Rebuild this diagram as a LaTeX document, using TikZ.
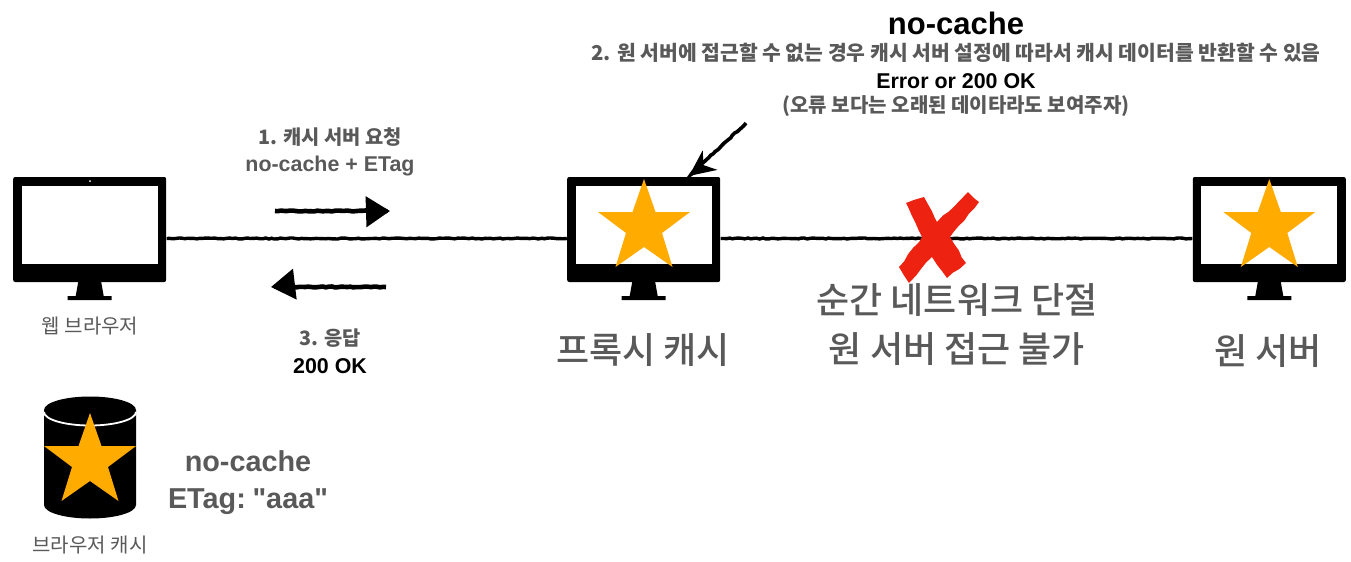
\documentclass[tikz,border=0pt]{standalone}
\usepackage{fontspec}
\setmainfont[Ligatures=TeXOff]{Liberation Sans}
\newfontfamily\krfont{Noto Sans CJK KR}
\newfontfamily\krmedium{Noto Sans CJK KR Medium}
\usetikzlibrary{arrows.meta,decorations.pathmorphing}
\definecolor{txtgray}{HTML}{595959}
\definecolor{staryellow}{HTML}{FFAB00}
\definecolor{crossred}{HTML}{EE2211}
\tikzset{
 monbody/.style={fill=black,rounded corners=1pt,inner sep=0pt,minimum width=76.5pt,minimum height=52.5pt},
 monscreen/.style={fill=white,inner sep=0pt,minimum width=68pt,minimum height=39pt},
 rough/.style={decorate,decoration={random steps,segment length=1.5pt,amplitude=.25pt}},
 link/.style={rough,line width=1.7pt,black},
 handarrow/.style={rough,line width=2.3pt,black,line join=round,-{Triangle[length=12pt,width=15pt]}},
 small/.style={font=\krfont\fontsize{10}{11}\selectfont,text=txtgray},
 label/.style={font=\krfont\bfseries\fontsize{9.9}{12}\selectfont,text=txtgray},
 latin/.style={font=\bfseries\fontsize{10.7}{12}\selectfont,text=txtgray},
 cacheinfo/.style={font=\bfseries\fontsize{14.4}{16}\selectfont,text=txtgray},
 big/.style={font=\krmedium\fontsize{18}{22}\selectfont,text=txtgray},
}
\newcommand{\monitor}[2]{
 \node[monbody] (#1) at (#2,229.5) {};
 \node[monscreen] (#1 screen) at (#2,225) {};
 \fill (#2-11.5,282)--(#2+11.5,282)--(#2+14,296)--(#2+22,296)--(#2+22,300)--(#2-22,300)--(#2-22,296)--(#2-14,296)--cycle;
}
\newcommand{\gstar}[2]{
 \fill[staryellow,shift={(#1,#2)}] (0,0)--(11.5,33)--(46,33)--(18,54)--(28.5,88)--(0,68)--(-28.5,88)--(-18,54)--(-46,33)--(-11.5,33)--cycle;
}
\begin{document}
\begin{tikzpicture}[x=0.5pt,y=-0.5pt]
 \useasboundingbox (0,0) rectangle (1351,562);
 \pgfmathsetseed{7}
 \monitor{browser}{89.7}
 \monitor{proxy}{643.7}
 \monitor{origin}{1269.3}
 \fill[white] (90,181) circle (1);
 \gstar{644}{179}
 \gstar{1269.3}{179}
 % connectors
 \draw[link] ([yshift=-4.5pt]browser.east) -- ([yshift=-4.5pt]proxy.west);
 \draw[link] ([yshift=-4.5pt]proxy.east) -- ([yshift=-4.5pt]origin.west);
 \coordinate (reqstart) at (275,211);
 \coordinate (reqend) at (390,211);
 \coordinate (respstart) at (386,287);
 \coordinate (respend) at (271,287);
 \coordinate (notestart) at (746,123);
 \coordinate (noteend) at (689,176);
 \draw[handarrow] (reqstart) -- (reqend);
 \draw[handarrow] (respstart) -- (respend);
 \draw[rough,line width=1.8pt,-{Stealth[length=13pt,width=12pt,inset=4pt]}] (notestart) -- (noteend);
 % red cross
 \fill[crossred,decorate,decoration={random steps,segment length=4pt,amplitude=.4pt}] (906,203)--(924,197)--(937,222)--(968,192)--(979,202)--(950,237)--(966,263)--(947,278)--(932,257)--(909,283)--(899,267)--(922,237)--cycle;
 % cache
 \fill (44,410) arc[start angle=180,end angle=360,x radius=46,y radius=13.5] -- (136,505) arc[start angle=0,end angle=180,x radius=46,y radius=13.5] -- cycle;
 \draw[white,line width=.9pt] (44,412) arc[start angle=180,end angle=0,x radius=46,y radius=13.5];
 \gstar{90}{413}
 % labels
 \node[label] (reqlabel) at (330,137) {1. 캐시 서버 요청};
 \node[latin] (reqtag) at (330,166) {no-cache + ETag};
 \node[label] (resplabel) at (330,338) {3. 응답};
 \node[latin,text=black] (respok) at (330,366) {200 OK};
 \node[small] (browserlabel) at (90,326) {웹 브라우저};
 \node[small] (cachelabel) at (90,545) {브라우저 캐시};
 \node[cacheinfo] (cachename) at (248,461) {no-cache};
 \node[cacheinfo] (cachetag) at (248,502) {\spaceskip=.14em ETag: "aaa"};
 \node[font=\bfseries\fontsize{15.5}{17}\selectfont] (title) at (956,23) {no-cache};
 \node[label,font=\krfont\bfseries\fontsize{10.2}{12}\selectfont] (notetwo) at (956,53) {2. 원 서버에 접근할 수 없는 경우 캐시 서버 설정에 따라서 캐시 데이터를 반환할 수 있음};
 \node[latin,text=black] (noteok) at (956,81) {Error or 200 OK};
 \node[label,font=\krfont\bfseries\fontsize{10}{12}\selectfont] (notethree) at (956,106) {(오류 보다는 오래된 데이타라도 보여주자)};
 \node[big] (proxylabel) at (643,350) {프록시 캐시};
 \node[big] (originlabel) at (1268,351) {원 서버};
 \node[big] (cutone) at (957,300) {순간 네트워크 단절};
 \node[big] (cuttwo) at (957,349) {원 서버 접근 불가};
\end{tikzpicture}
\end{document}
